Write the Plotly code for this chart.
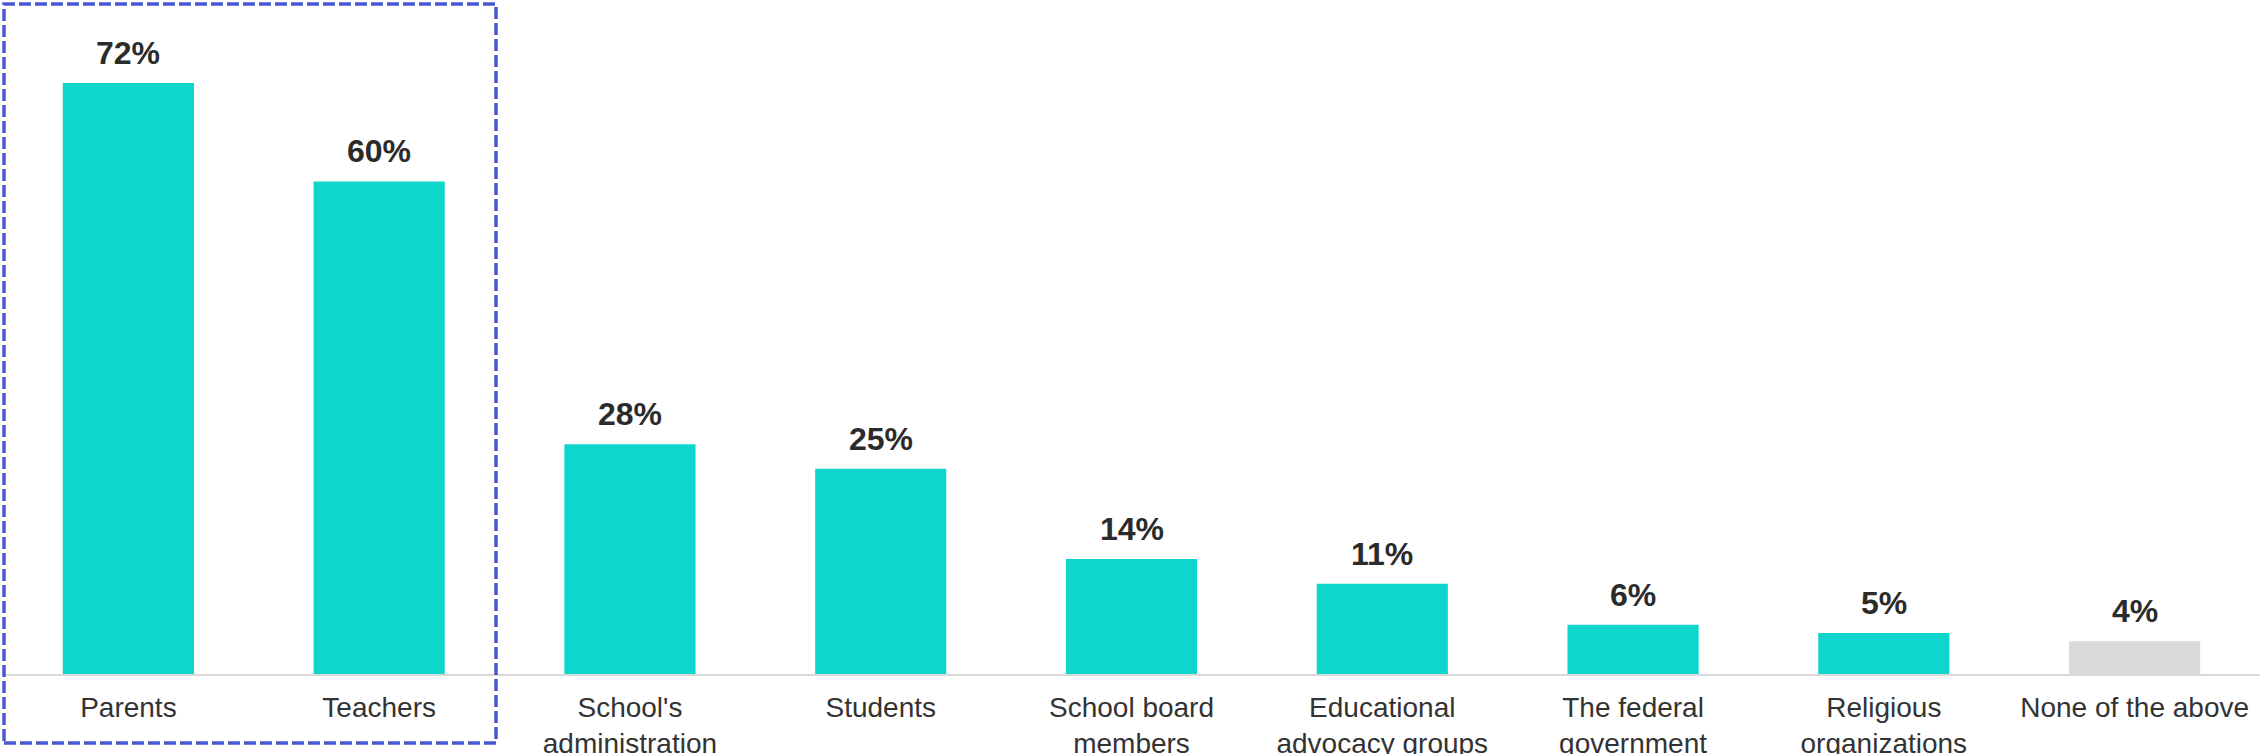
import plotly.graph_objects as go

# Who should have the most say in what is taught (share of respondents, %)
categories = [
    "Parents",
    "Teachers",
    "School's<br>administration",
    "Students",
    "School board<br>members",
    "Educational<br>advocacy groups",
    "The federal<br>government",
    "Religious<br>organizations",
    "None of the above",
]
shares = [72, 60, 28, 25, 14, 11, 6, 5, 4]

TEAL = "#0ED6CC"
GREY = "#D9D9D9"
bar_colors = [GREY if c == "None of the above" else TEAL for c in categories]

W, H = 2260, 754
M_L, M_R, M_T, M_B = 3, 0, 0, 80

fig = go.Figure(
    go.Bar(
        x=categories,
        y=shares,
        marker=dict(color=bar_colors, line=dict(width=0)),
        width=0.523,
        hoverinfo="skip",
    )
)

# value labels above each bar
for cat, val in zip(categories, shares):
    fig.add_annotation(
        x=cat,
        y=val,
        text=f"<b>{val}%</b>",
        showarrow=False,
        yanchor="bottom",
        yshift=10,
        font=dict(family="Liberation Sans, Arial, sans-serif", size=32, color="#2B2B2B"),
    )

# dashed highlight around the first two categories
plot_w = W - M_L - M_R
plot_h = H - M_T - M_B
fig.add_shape(
    type="rect",
    xref="paper",
    yref="paper",
    x0=(4 - M_L) / plot_w,
    x1=(496 - M_L) / plot_w,
    y0=(plot_h - 743) / plot_h,
    y1=(plot_h - 4) / plot_h,
    line=dict(color="#4858D0", width=3.5, dash="12px,4px"),
    fillcolor="rgba(0,0,0,0)",
    layer="above",
)

fig.update_layout(
    width=W,
    height=H,
    margin=dict(l=M_L, r=M_R, t=M_T, b=M_B, pad=0),
    paper_bgcolor="white",
    plot_bgcolor="white",
    showlegend=False,
    font=dict(family="Liberation Sans, Arial, sans-serif", size=28, color="#333333"),
    xaxis=dict(
        type="category",
        range=[-0.5, 8.5],
        automargin=False,
        showline=True,
        linecolor=GREY,
        linewidth=2,
        showgrid=False,
        zeroline=False,
        ticks="",
        ticklabelstandoff=7,
        tickfont=dict(size=28, color="#333333"),
        fixedrange=True,
    ),
    yaxis=dict(
        range=[0, 82.1],
        visible=False,
        automargin=False,
        showgrid=False,
        zeroline=False,
        fixedrange=True,
    ),
)

fig.write_html("out.html", config={"displayModeBar": False})
